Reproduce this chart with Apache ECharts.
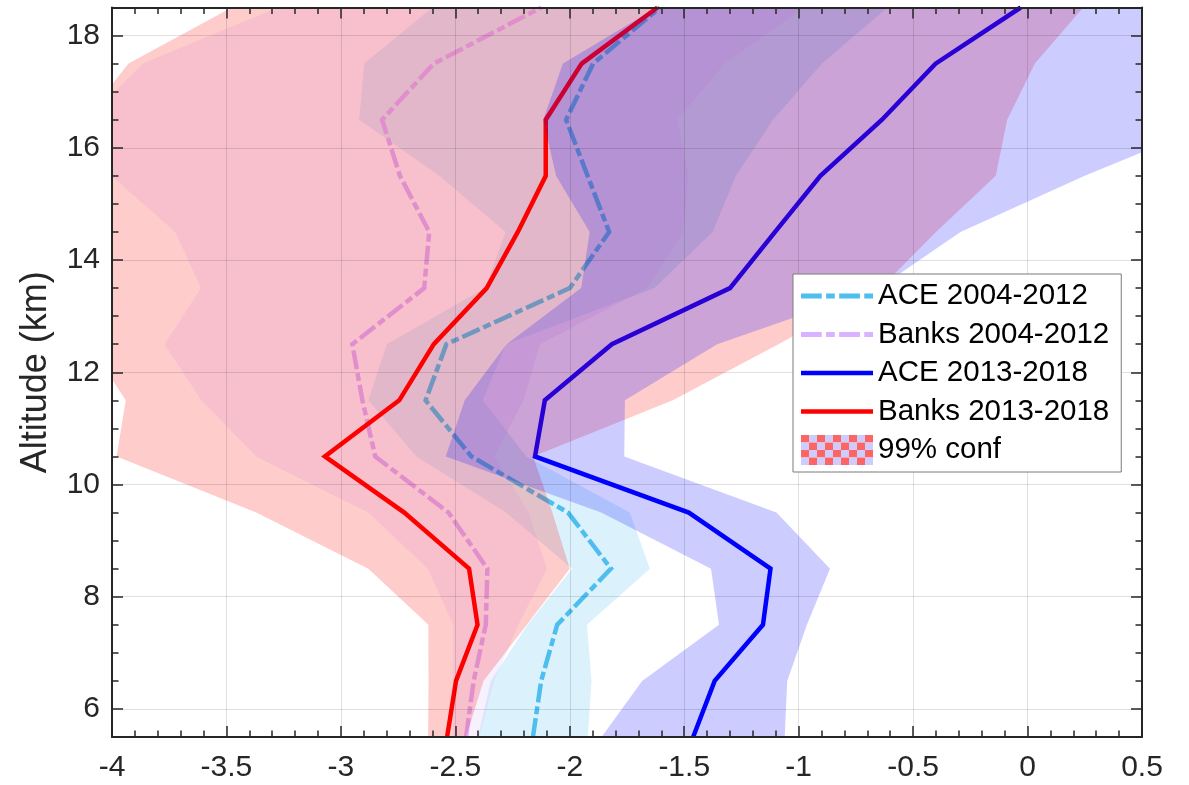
<!DOCTYPE html>
<html>
<head>
<meta charset="utf-8">
<script src="https://cdn.jsdelivr.net/npm/echarts@6/dist/echarts.min.js"></script>
<style>
  html, body { margin: 0; padding: 0; background: #ffffff; }
  #chart { width: 1189px; height: 785px; }
</style>
</head>
<body>
<div id="chart"></div>
<script>
// ---------- data ----------
const altitude = [5.5, 6.5, 7.5, 8.5, 9.5, 10.5, 11.5, 12.5, 13.5, 14.5, 15.5, 16.5, 17.5, 18.5];

const ace0412   = [-2.161, -2.125, -2.055, -1.82, -2.008, -2.43, -2.63, -2.539, -2.0, -1.828, -1.922, -2.016, -1.898, -1.606];
const ace0412Lo = [-2.401, -2.345, -2.185, -1.99, -2.278, -2.67, -2.88, -2.799, -2.37, -2.28, -2.57, -2.92, -2.898, -2.60];
const ace0412Hi = [-1.921, -1.905, -1.925, -1.65, -1.738, -2.19, -2.38, -2.279, -1.63, -1.376, -1.274, -1.112, -0.898, -0.612];

const banks0412   = [-2.453, -2.42, -2.367, -2.36, -2.53, -2.85, -2.906, -2.95, -2.636, -2.614, -2.742, -2.82, -2.594, -2.125];
const banks0412Lo = [-2.51, -2.51, -2.509, -2.62, -2.88, -3.37, -3.61, -3.77, -3.611, -3.724, -4.002, -4.11, -3.865, -3.275];
const banks0412Hi = [-2.396, -2.33, -2.225, -2.10, -2.18, -2.33, -2.202, -2.13, -1.661, -1.504, -1.482, -1.53, -1.323, -0.975];

const ace1318   = [-1.461, -1.367, -1.156, -1.123, -1.48, -2.152, -2.109, -1.816, -1.3, -1.103, -0.905, -0.636, -0.402, -0.03];
const ace1318Lo = [-1.861, -1.684, -1.348, -1.383, -1.863, -2.542, -2.459, -2.276, -1.95, -1.913, -2.06, -2.116, -2.03, -1.62];
const ace1318Hi = [-1.061, -1.05, -0.964, -0.863, -1.097, -1.762, -1.759, -1.356, -0.65, -0.293, 0.25, 0.844, 1.226, 1.56];

const banks1318   = [-2.536, -2.497, -2.403, -2.44, -2.723, -3.07, -2.745, -2.594, -2.363, -2.227, -2.105, -2.105, -1.948, -1.617];
const banks1318Lo = [-2.619, -2.617, -2.618, -2.88, -3.37, -3.98, -3.94, -4.10, -4.083, -4.054, -4.071, -4.121, -3.928, -3.477];
const banks1318Hi = [-2.453, -2.377, -2.188, -2.0, -2.076, -2.16, -1.55, -1.088, -0.643, -0.40, -0.139, -0.089, 0.032, 0.243];

const yMajorTicks = [6, 8, 10, 12, 14, 16, 18];
const seriesNames = ['ACE 2004-2012', 'Banks 2004-2012', 'ACE 2013-2018', 'Banks 2013-2018'];
const bandName = '99% conf';

// ---------- styling ----------
const FONT = "'Liberation Sans', Arial, Helvetica, sans-serif";
const AXIS_COLOR = '#262626';
const GRID_COLOR = 'rgba(0,0,0,0.12)';
const DASH = [19, 4, 8, 4];

function pairs(xs) { return xs.map((x, i) => [x, altitude[i]]); }

function lineSeries(name, xs, color, dashed) {
  return {
    type: 'line', name: name, data: pairs(xs),
    xAxisIndex: 0, yAxisIndex: 0,
    symbol: 'none', showSymbol: false, z: 2, silent: true, animation: false,
    itemStyle: { color: color },
    lineStyle: { color: color, width: 4.5, type: dashed ? DASH : 'solid', cap: 'butt', join: 'miter' }
  };
}

function bandSeries(lo, hi, fill, z) {
  return {
    type: 'custom', name: bandName, coordinateSystem: 'cartesian2d',
    xAxisIndex: 0, yAxisIndex: 0, clip: true, z: z, silent: true, animation: false,
    itemStyle: { color: fill },
    data: altitude.map((a, i) => [lo[i], a, hi[i]]),
    encode: { x: [0, 2], y: 1 },
    renderItem: function (params, api) {
      if (params.dataIndex !== 0) return null;
      const pts = [];
      for (let i = 0; i < altitude.length; i++) pts.push(api.coord([lo[i], altitude[i]]));
      for (let i = altitude.length - 1; i >= 0; i--) pts.push(api.coord([hi[i], altitude[i]]));
      return { type: 'polygon', shape: { points: pts }, style: { fill: fill, stroke: null } };
    }
  };
}

// checkerboard icon for the "99% conf" legend entry
function checkerIcon() {
  const cv = document.createElement('canvas');
  cv.width = 72; cv.height = 30;
  const cx = cv.getContext('2d');
  for (let r = 0; r < 4; r++) {
    for (let c = 0; c < 9; c++) {
      cx.fillStyle = (r + c) % 2 === 0 ? '#ff6464' : '#ccccff';
      cx.fillRect(c * 8, r * 7.5, 8, 7.5);
    }
  }
  return 'image://' + cv.toDataURL('image/png');
}

const dashIcon = 'path://M0,0h19v4.5h-19z M23,0h8v4.5h-8z M35,0h19v4.5h-19z M58,0h8v4.5h-8z';
const solidIcon = 'path://M0,0h72v4.5h-72z';

const axisLineStyle = { color: AXIS_COLOR, width: 2 };
const tickLineStyle = { color: AXIS_COLOR, width: 1.5 };

const option = {
  animation: false,
  backgroundColor: '#ffffff',
  grid: { left: 112, right: 47, top: 7.5, bottom: 48, containLabel: false, outerBoundsMode: 'none' },
  xAxis: [
    {
      type: 'value', min: -4, max: 0.5, interval: 0.5, position: 'bottom', z: 10,
      axisLine: { show: true, onZero: false, lineStyle: axisLineStyle },
      axisTick: { show: true, inside: true, length: 11, lineStyle: tickLineStyle },
      minorTick: { show: true, splitNumber: 5, length: 6.5, lineStyle: tickLineStyle },
      axisLabel: { show: true, fontSize: 30, fontFamily: FONT, color: AXIS_COLOR, margin: 16, showMinLabel: true, showMaxLabel: true, hideOverlap: false },
      splitLine: { show: true, lineStyle: { color: GRID_COLOR, width: 1 } }
    },
    {
      type: 'value', min: -4, max: 0.5, interval: 0.5, position: 'top', z: 10,
      axisLine: { show: true, onZero: false, lineStyle: axisLineStyle },
      axisTick: { show: true, inside: true, length: 11, lineStyle: tickLineStyle },
      minorTick: { show: true, splitNumber: 5, length: 6.5, lineStyle: tickLineStyle },
      axisLabel: { show: false },
      splitLine: { show: false }
    }
  ],
  yAxis: [
    {
      type: 'value', min: 5.5, max: 18.5, interval: 0.5, position: 'left', z: 10,
      name: 'Altitude (km)', nameLocation: 'middle', nameRotate: 90, nameGap: 58, nameMoveOverlap: false,
      nameTextStyle: { fontSize: 36, fontFamily: FONT, color: AXIS_COLOR },
      axisLine: { show: true, onZero: false, lineStyle: axisLineStyle },
      axisTick: { show: true, inside: true, length: 6.5, lineStyle: tickLineStyle },
      axisLabel: { show: false },
      splitLine: { show: false }
    },
    {
      type: 'value', min: 5.5, max: 18.5, splitNumber: 6, position: 'left', z: 10,
      axisLine: { show: false, onZero: false },
      axisTick: { show: true, inside: true, length: 11, lineStyle: tickLineStyle, customValues: yMajorTicks },
      axisLabel: { show: true, fontSize: 30, fontFamily: FONT, color: AXIS_COLOR, margin: 12, customValues: yMajorTicks },
      splitLine: { show: true, lineStyle: { color: GRID_COLOR, width: 1 } }
    },
    {
      type: 'value', min: 5.5, max: 18.5, interval: 0.5, position: 'right', z: 10,
      axisLine: { show: true, onZero: false, lineStyle: axisLineStyle },
      axisTick: { show: true, inside: true, length: 6.5, lineStyle: tickLineStyle },
      axisLabel: { show: false },
      splitLine: { show: false }
    },
    {
      type: 'value', min: 5.5, max: 18.5, splitNumber: 6, position: 'right', z: 10,
      axisLine: { show: false, onZero: false },
      axisTick: { show: true, inside: true, length: 11, lineStyle: tickLineStyle, customValues: yMajorTicks },
      axisLabel: { show: false },
      splitLine: { show: false }
    }
  ],
  legend: {
    orient: 'vertical', left: 793, top: 274, z: 20,
    padding: [7, 12, 7, 8], itemGap: 8.5, itemWidth: 72, itemHeight: 30,
    backgroundColor: '#ffffff', borderColor: '#7a7a7a', borderWidth: 1, borderRadius: 0,
    selectedMode: false, symbolKeepAspect: true,
    itemStyle: { borderWidth: 0 },
    textStyle: { fontSize: 29.5, fontFamily: FONT, color: '#000000', lineHeight: 30 },
    data: [
      { name: seriesNames[0], icon: dashIcon, itemStyle: { color: '#4DBEEE', borderWidth: 0 } },
      { name: seriesNames[1], icon: dashIcon, itemStyle: { color: '#D9B3FF', borderWidth: 0 } },
      { name: seriesNames[2], icon: solidIcon, itemStyle: { color: '#0000FF', borderWidth: 0 } },
      { name: seriesNames[3], icon: solidIcon, itemStyle: { color: '#FF0000', borderWidth: 0 } },
      { name: bandName, icon: checkerIcon() }
    ]
  },
  series: [
    // lower bands (drawn beneath the lines)
    bandSeries(ace0412Lo, ace0412Hi, 'rgba(77,190,238,0.2)', 1),
    bandSeries(banks0412Lo, banks0412Hi, 'rgba(217,179,255,0.2)', 1),
    // profiles
    lineSeries(seriesNames[0], ace0412, '#4DBEEE', true),
    lineSeries(seriesNames[1], banks0412, '#D9B3FF', true),
    lineSeries(seriesNames[2], ace1318, '#0000FF', false),
    lineSeries(seriesNames[3], banks1318, '#FF0000', false),
    // upper bands (drawn over the lines)
    bandSeries(banks1318Lo, banks1318Hi, 'rgba(255,0,0,0.2)', 3),
    bandSeries(ace1318Lo, ace1318Hi, 'rgba(0,0,255,0.2)', 3)
  ]
};

const chart = echarts.init(document.getElementById('chart'), null, { renderer: 'canvas' });
chart.setOption(option);
</script>
</body>
</html>
